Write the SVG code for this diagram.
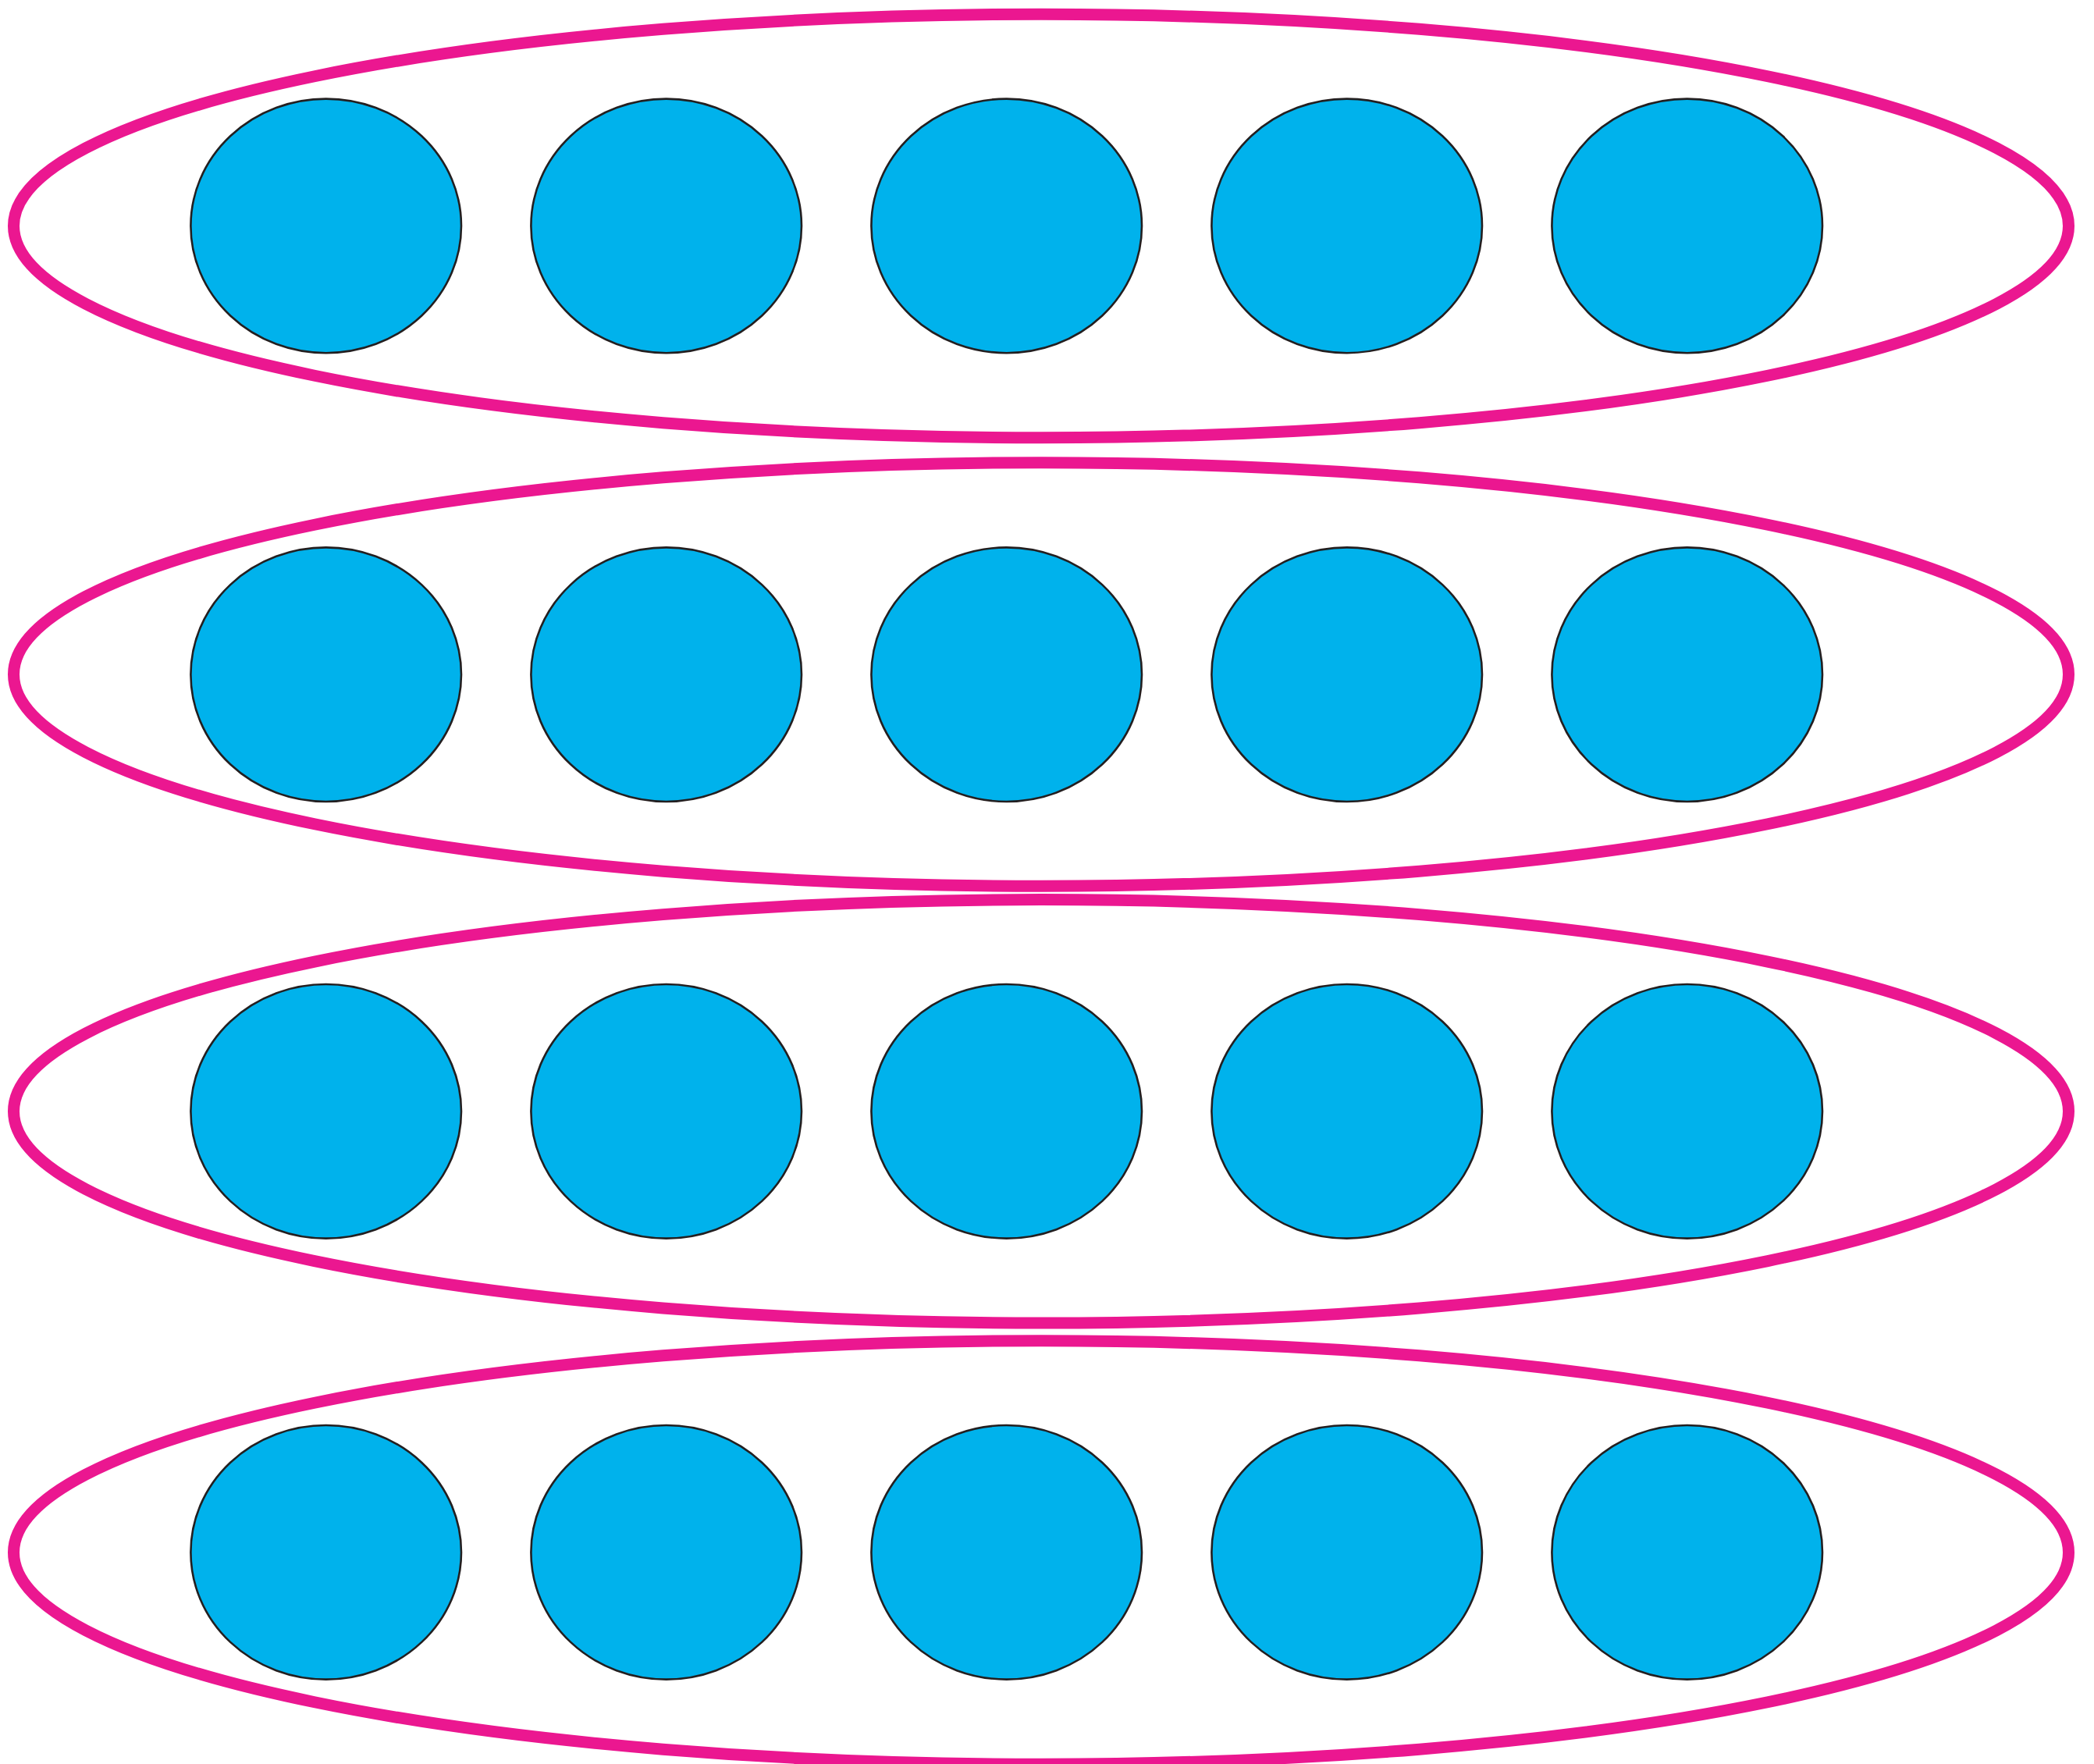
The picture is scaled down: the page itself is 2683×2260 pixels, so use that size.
<svg xmlns="http://www.w3.org/2000/svg" width="2683" height="2260" viewBox="0 0 2683 2260">
  <style>
    .group { fill: none; stroke: #EB1790; stroke-width: 15; }
    .node { fill: #00B2EC; stroke: #231F20; stroke-width: 2.6; }
  </style>
  <rect width="2683" height="2260" fill="#FFFFFF"/>
  <g id="groups">
    <ellipse id="group1" class="group" cx="1334" cy="289.5" rx="1316.5" ry="271.2"/>
    <ellipse id="group2" class="group" cx="1334" cy="864" rx="1316.5" ry="271.2"/>
    <ellipse id="group3" class="group" cx="1334" cy="1423.8" rx="1316.5" ry="271.2"/>
    <ellipse id="group4" class="group" cx="1334" cy="1989" rx="1316.5" ry="271.2"/>
  </g>
  <g id="connectors"></g>
  <g id="row1">
    <g id="n1-1"><ellipse class="node" cx="417.7" cy="289.4" rx="173.3" ry="162.8"/></g>
    <g id="n1-2"><ellipse class="node" cx="853.7" cy="289.4" rx="173.3" ry="162.8"/></g>
    <g id="n1-3"><ellipse class="node" cx="1289.7" cy="289.4" rx="173.3" ry="162.8"/></g>
    <g id="n1-4"><ellipse class="node" cx="1725.7" cy="289.4" rx="173.3" ry="162.8"/></g>
    <g id="n1-5"><ellipse class="node" cx="2161.7" cy="289.4" rx="173.3" ry="162.8"/></g>
  </g>
  <g id="row2">
    <g id="n2-1"><ellipse class="node" cx="417.7" cy="864.2" rx="173.3" ry="162.8"/></g>
    <g id="n2-2"><ellipse class="node" cx="853.7" cy="864.2" rx="173.3" ry="162.8"/></g>
    <g id="n2-3"><ellipse class="node" cx="1289.7" cy="864.2" rx="173.3" ry="162.8"/></g>
    <g id="n2-4"><ellipse class="node" cx="1725.7" cy="864.2" rx="173.3" ry="162.8"/></g>
    <g id="n2-5"><ellipse class="node" cx="2161.7" cy="864.2" rx="173.3" ry="162.8"/></g>
  </g>
  <g id="row3">
    <g id="n3-1"><ellipse class="node" cx="417.7" cy="1423.8" rx="173.3" ry="162.8"/></g>
    <g id="n3-2"><ellipse class="node" cx="853.7" cy="1423.8" rx="173.3" ry="162.8"/></g>
    <g id="n3-3"><ellipse class="node" cx="1289.7" cy="1423.8" rx="173.3" ry="162.8"/></g>
    <g id="n3-4"><ellipse class="node" cx="1725.7" cy="1423.8" rx="173.3" ry="162.8"/></g>
    <g id="n3-5"><ellipse class="node" cx="2161.7" cy="1423.8" rx="173.3" ry="162.8"/></g>
  </g>
  <g id="row4">
    <g id="n4-1"><ellipse class="node" cx="417.7" cy="1988.8" rx="173.3" ry="162.8"/></g>
    <g id="n4-2"><ellipse class="node" cx="853.7" cy="1988.8" rx="173.3" ry="162.8"/></g>
    <g id="n4-3"><ellipse class="node" cx="1289.7" cy="1988.8" rx="173.3" ry="162.8"/></g>
    <g id="n4-4"><ellipse class="node" cx="1725.7" cy="1988.8" rx="173.3" ry="162.8"/></g>
    <g id="n4-5"><ellipse class="node" cx="2161.7" cy="1988.8" rx="173.3" ry="162.8"/></g>
  </g>
</svg>
